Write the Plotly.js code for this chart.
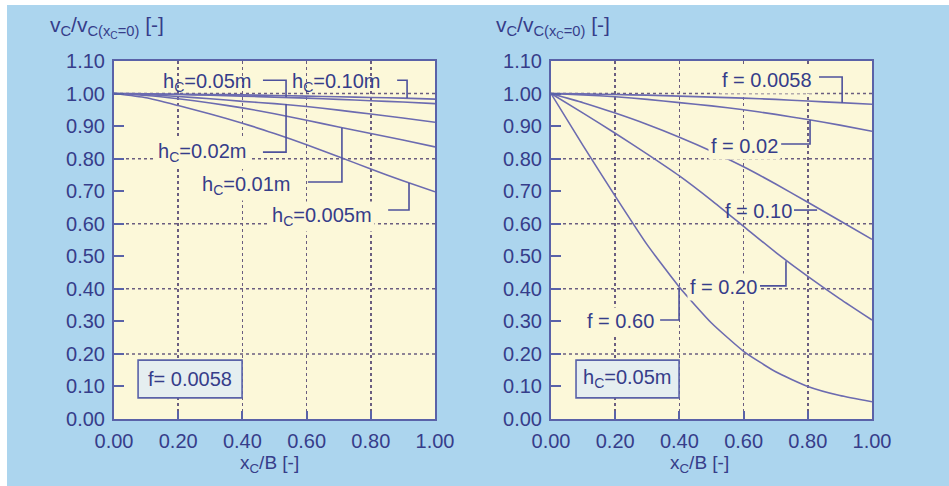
<!DOCTYPE html>
<html>
<head>
<meta charset="utf-8">
<script src="https://cdn.plot.ly/plotly-3.0.1.min.js"></script>
<style>
  html, body { margin: 0; padding: 0; background: #ffffff; width: 949px; height: 486px; overflow: hidden; }
  #chart { position: absolute; left: 7px; top: 5px; width: 942px; height: 481px; }
</style>
</head>
<body>
<div id="chart"></div>
<script>
// ---- data ----
const xRel = [0, 0.1, 0.2, 0.3, 0.4, 0.5, 0.6, 0.7, 0.8, 0.9, 1.0];

// Left panel: f = 0.0058, different h_C
const hLabels = ["h<sub>C</sub>=0.10m", "h<sub>C</sub>=0.05m", "h<sub>C</sub>=0.02m", "h<sub>C</sub>=0.01m", "h<sub>C</sub>=0.005m"];
const h010 = [1.000, 0.999, 0.998, 0.997, 0.996, 0.994, 0.992, 0.990, 0.988, 0.986, 0.983];
const h005 = [1.000, 0.999, 0.997, 0.995, 0.992, 0.989, 0.986, 0.982, 0.978, 0.974, 0.969];
const h002 = [1.000, 0.997, 0.991, 0.984, 0.976, 0.969, 0.960, 0.949, 0.937, 0.925, 0.912];
const h001 = [1.000, 0.994, 0.984, 0.971, 0.956, 0.938, 0.918, 0.897, 0.877, 0.857, 0.836];
const h0005 = [1.000, 0.987, 0.963, 0.937, 0.909, 0.877, 0.843, 0.806, 0.768, 0.732, 0.698];

// Right panel: h_C = 0.05 m, different f
const fLabels = ["f = 0.0058", "f = 0.02", "f = 0.10", "f = 0.20", "f = 0.60"];
const f00058 = [1.000, 0.999, 0.997, 0.995, 0.992, 0.989, 0.986, 0.982, 0.977, 0.972, 0.967];
const f002 = [1.000, 0.996, 0.990, 0.982, 0.972, 0.962, 0.950, 0.936, 0.920, 0.903, 0.884];
const f010 = [1.000, 0.972, 0.940, 0.905, 0.866, 0.823, 0.775, 0.722, 0.666, 0.609, 0.552];
const f020 = [1.000, 0.940, 0.878, 0.814, 0.747, 0.672, 0.592, 0.512, 0.438, 0.369, 0.304];
const f060 = [1.000, 0.840, 0.685, 0.535, 0.405, 0.295, 0.208, 0.145, 0.100, 0.072, 0.053];

const yGridVals = [0.2, 0.4, 0.6, 0.8, 1.0];

const boxLeft = "f= 0.0058";
const boxRight = "h<sub>C</sub>=0.05m";
const yTitle = "v<sub>C</sub>/v<sub>C(x<sub>C</sub>=0)</sub> [-]";
const xTitle = "x<sub>C</sub>/B [-]";

// ---- styles ----
const FONT = "Liberation Sans, Arial, sans-serif";
const TXT = "#363d8a";
const LINE = "#6c6bb0";
const LEAD = "#4d519c";
const AX = "#5a62a8";
const GRID = "#6a5d80";
const GDASH = "3px,3px";
const PLOTBG = "#fcf8d9";

function curve(y, xa, ya) {
  return { x: xRel, y: y, xaxis: xa, yaxis: ya, type: "scatter", mode: "lines",
           line: { color: LINE, width: 1.6, shape: "spline", smoothing: 0.5 },
           hoverinfo: "skip", showlegend: false };
}

const data = [
  curve(h010, "x", "y"), curve(h005, "x", "y"), curve(h002, "x", "y"),
  curve(h001, "x", "y"), curve(h0005, "x", "y"),
  curve(f00058, "x2", "y2"), curve(f002, "x2", "y2"), curve(f010, "x2", "y2"),
  curve(f020, "x2", "y2"), curve(f060, "x2", "y2")
];

const tickFont = { family: FONT, size: 20, color: TXT };

function xAxis(domain, anchor) {
  return { domain: domain, anchor: anchor, range: [0, 1], dtick: 0.2, tick0: 0, tickformat: ".2f",
           ticks: "inside", ticklen: 8, tickwidth: 2, tickcolor: AX,
           showline: true, mirror: true, linecolor: AX, linewidth: 2,
           showgrid: true, gridcolor: GRID, gridwidth: 1.5, griddash: GDASH,
           zeroline: false, tickfont: tickFont, ticklabelstandoff: 3, fixedrange: true };
}
function yAxis(anchor) {
  return { domain: [0, 1], anchor: anchor, range: [0, 1.1], dtick: 0.1, tick0: 0, tickformat: ".2f",
           ticks: "inside", ticklen: 10, tickwidth: 2, tickcolor: AX,
           showline: true, mirror: true, linecolor: AX, linewidth: 2,
           showgrid: false, zeroline: false, tickfont: tickFont, ticklabelstandoff: 3, fixedrange: true };
}

const LD = [0, 0.4235], RD = [0.5765, 1];

// label annotations: [text, x, y, xref, yref, opaque]
const labelDefs = [
  [hLabels[1], 0.290, 1.035, "x", "y", false],
  [hLabels[0], 0.692, 1.035, "x", "y", false],
  [hLabels[2], 0.277, 0.820, "x", "y", true],
  [hLabels[3], 0.414, 0.716, "x", "y", true],
  [hLabels[4], 0.648, 0.621, "x", "y", true],
  [fLabels[0], 0.673, 1.041, "x2", "y2", true],
  [fLabels[1], 0.604, 0.839, "x2", "y2", true],
  [fLabels[2], 0.645, 0.639, "x2", "y2", false],
  [fLabels[3], 0.536, 0.406, "x2", "y2", true],
  [fLabels[4], 0.218, 0.301, "x2", "y2", true]
];
const annotations = labelDefs.map(d => ({
  text: d[0], x: d[1], y: d[2], xref: d[3], yref: d[4], showarrow: false,
  xanchor: "center", yanchor: "middle", font: { family: FONT, size: 20, color: TXT },
  bgcolor: d[5] ? PLOTBG : "rgba(0,0,0,0)", borderpad: 2
}));
annotations.push(
  { text: boxLeft, x: 0.237, y: 0.123, xref: "x", yref: "y", showarrow: false,
    font: { family: FONT, size: 20, color: TXT } },
  { text: boxRight, x: 0.238, y: 0.123, xref: "x2", yref: "y2", showarrow: false,
    font: { family: FONT, size: 20, color: TXT } },
  { text: yTitle, x: -0.0871, y: 1.095, xref: "paper", yref: "paper", showarrow: false,
    xanchor: "left", yanchor: "middle", font: { family: FONT, size: 21, color: TXT } },
  { text: yTitle, x: 0.5013, y: 1.095, xref: "paper", yref: "paper", showarrow: false,
    xanchor: "left", yanchor: "middle", font: { family: FONT, size: 21, color: TXT } },
  { text: xTitle, x: 0.2058, y: -0.125, xref: "paper", yref: "paper", showarrow: false,
    xanchor: "center", yanchor: "middle", font: { family: FONT, size: 19, color: TXT } },
  { text: xTitle, x: 0.7718, y: -0.125, xref: "paper", yref: "paper", showarrow: false,
    xanchor: "center", yanchor: "middle", font: { family: FONT, size: 19, color: TXT } }
);

// leader lines (polylines)
function lead(pts, xr, yr) {
  let p = "M" + pts.map(q => q[0] + "," + q[1]).join(" L");
  return { type: "path", path: p, xref: xr, yref: yr, line: { color: LEAD, width: 1.6 }, layer: "above" };
}
const shapes = [];
// dashed horizontal gridlines every 0.2
yGridVals.forEach(v => {
  shapes.push({ type: "line", xref: "x domain", yref: "y", x0: 0, x1: 1, y0: v, y1: v,
                line: { color: GRID, width: 1.5, dash: GDASH }, layer: "below" });
  shapes.push({ type: "line", xref: "x2 domain", yref: "y2", x0: 0, x1: 1, y0: v, y1: v,
                line: { color: GRID, width: 1.5, dash: GDASH }, layer: "below" });
});
shapes.push(
  { type: "rect", xref: "x", yref: "y", x0: 0.075, x1: 0.399, y0: 0.065, y1: 0.181,
    fillcolor: "#e5eef0", line: { color: AX, width: 1.6 }, layer: "above" },
  { type: "rect", xref: "x2", yref: "y2", x0: 0.078, x1: 0.399, y0: 0.065, y1: 0.181,
    fillcolor: "#e5eef0", line: { color: AX, width: 1.6 }, layer: "above" },
  lead([[0.464, 1.041], [0.536, 1.041], [0.536, 0.989]], "x", "y"),
  lead([[0.882, 1.041], [0.913, 1.041], [0.913, 0.986]], "x", "y"),
  lead([[0.464, 0.820], [0.536, 0.820], [0.536, 0.968]], "x", "y"),
  lead([[0.604, 0.728], [0.710, 0.728], [0.710, 0.894]], "x", "y"),
  lead([[0.854, 0.642], [0.919, 0.642], [0.919, 0.725]], "x", "y"),
  lead([[0.835, 1.051], [0.907, 1.051], [0.907, 0.972]], "x2", "y2"),
  lead([[0.717, 0.845], [0.807, 0.845], [0.807, 0.919]], "x2", "y2"),
  lead([[0.757, 0.642], [0.829, 0.642]], "x2", "y2"),
  lead([[0.651, 0.409], [0.732, 0.409], [0.732, 0.485]], "x2", "y2"),
  lead([[0.340, 0.304], [0.399, 0.304], [0.399, 0.402]], "x2", "y2")
);

const layout = {
  width: 942, height: 481,
  margin: { l: 107, r: 77, t: 56, b: 67, pad: 0 },
  paper_bgcolor: "#acd5ee",
  plot_bgcolor: PLOTBG,
  showlegend: false,
  font: { family: FONT, color: TXT },
  xaxis: xAxis(LD, "y"),
  yaxis: yAxis("x"),
  xaxis2: xAxis(RD, "y2"),
  yaxis2: yAxis("x2"),
  annotations: annotations,
  shapes: shapes
};

Plotly.newPlot("chart", data, layout, { staticPlot: true, displayModeBar: false });
</script>
</body>
</html>
